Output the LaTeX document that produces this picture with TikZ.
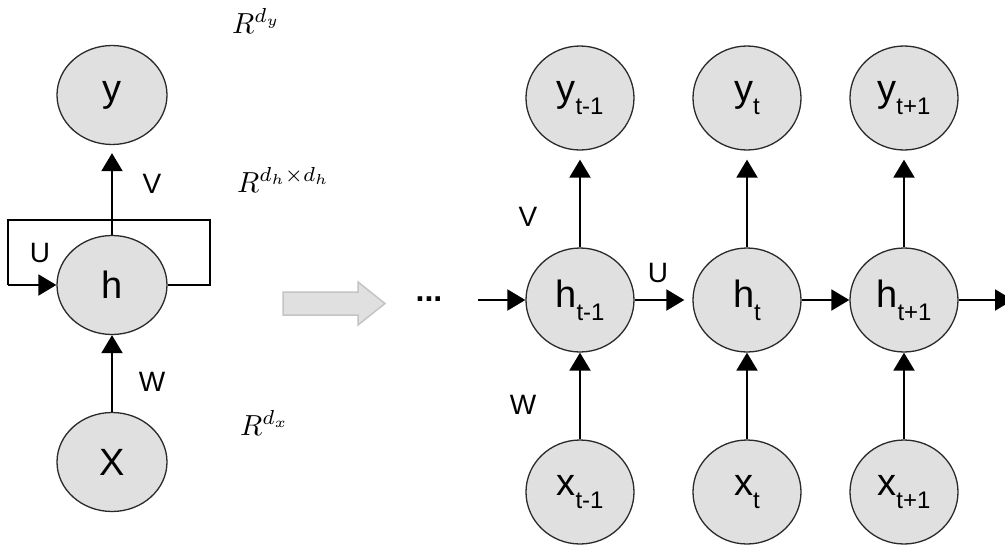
\documentclass[tikz,border=0pt]{standalone}
\usepackage{graphicx}
\usepackage{fontspec}
\setmainfont{Liberation Sans}
\usetikzlibrary{shapes.geometric,arrows.meta}
\definecolor{cfill}{HTML}{E0E0E0}
\definecolor{cborder}{HTML}{2A2A2A}
\definecolor{bigfill}{HTML}{E0E0E0}
\definecolor{bigborder}{HTML}{C4C4C4}
\newcommand{\sbx}[1]{\raisebox{-13pt}{\fontsize{24}{24}\selectfont #1}}
\newcommand{\bigmath}[1]{\scalebox{2.9}{#1}}
\tikzset{
  cellL/.style={ellipse, draw=cborder, fill=cfill, line width=1.3pt, minimum width=110pt, minimum height=99pt, inner sep=0pt, font=\fontsize{38}{40}\selectfont},
  cellR/.style={ellipse, draw=cborder, fill=cfill, line width=1.3pt, minimum width=108pt, minimum height=104pt, inner sep=0pt, font=\fontsize{38}{40}\selectfont},
  conn/.style={line width=2pt, -{Triangle[length=18pt,width=21pt]}},
  plain/.style={line width=2pt},
  wlabel/.style={inner sep=0pt, font=\fontsize{28}{30}\selectfont},
  mlabel/.style={inner sep=0pt, anchor=base west}
}
\begin{document}
\begin{tikzpicture}[x=1pt,y=-1pt]
\clip (0,0) rectangle (1005,555);
\fill[white] (0,0) rectangle (1005,555);
% left folded network
\node[cellL] (y) at (112,95) {y};
\node[cellL] (h) at (112,285) {h};
\node[cellL] (x) at (112,462) {X};
\coordinate (lr) at (210,285);
\coordinate (ltr) at (210,220);
\coordinate (ltl) at (8,220);
\coordinate (ll) at (8,285);
\draw[plain] (h.east) -- (lr) -- (ltr) -- (ltl) -- (ll);
\draw[conn] (ll) -- (h.west);
\draw[conn, shorten >=8pt] (h.north) -- (y.south);
\draw[conn] (x.north) -- (h.south);
\node[wlabel] (lu) at (40,253) {U};
\node[wlabel] (lv) at (152,184) {V};
\node[wlabel] (lw) at (152,382) {W};
\node[mlabel] (ry) at (232,33) {\bigmath{$R^{d_y}$}};
\node[mlabel] (rh) at (237,192) {\bigmath{$R^{d_h\times d_h}$}};
\node[mlabel] (rx) at (240,435) {\bigmath{$R^{d_x}$}};
% big arrow
\draw[fill=bigfill, draw=bigborder, line width=1.5pt] (283,292) -- (358,292) -- (358,282) -- (385,303.5) -- (358,325) -- (358,315) -- (283,315) -- cycle;
\node[inner sep=0pt, anchor=base, font=\fontsize{32}{32}\selectfont\bfseries] (dots) at (429,301) {...};
% unrolled network
\node[cellR] (y1) at (580,98) {y\sbx{t-1}};
\node[cellR] (y2) at (747,98) {y\sbx{t}};
\node[cellR] (y3) at (904,98) {y\sbx{t+1}};
\node[cellR] (h1) at (580,300) {h\sbx{t-1}};
\node[cellR] (h2) at (747,300) {h\sbx{t}};
\node[cellR] (h3) at (904,300) {h\sbx{t+1}};
\node[cellR] (x1) at (580,492) {x\sbx{t-1}};
\node[cellR] (x2) at (747,492) {x\sbx{t}};
\node[cellR] (x3) at (904,492) {x\sbx{t+1}};
\coordinate (in) at (478,300);
\coordinate (out) at (1013,300);
\draw[conn] (in) -- (h1.west);
\draw[conn, shorten >=8pt] (h1.east) -- (h2.west);
\draw[conn] (h2.east) -- (h3.west);
\draw[conn] (h3.east) -- (out);
\foreach \i in {1,2,3}{
  \draw[conn, shorten >=9pt] (h\i.north) -- (y\i.south);
  \draw[conn] (x\i.north) -- (h\i.south);
}
\node[wlabel] (ru) at (658,273) {U};
\node[wlabel] (rv) at (528,217) {V};
\node[wlabel] (rw) at (523,405) {W};
\end{tikzpicture}
\end{document}
